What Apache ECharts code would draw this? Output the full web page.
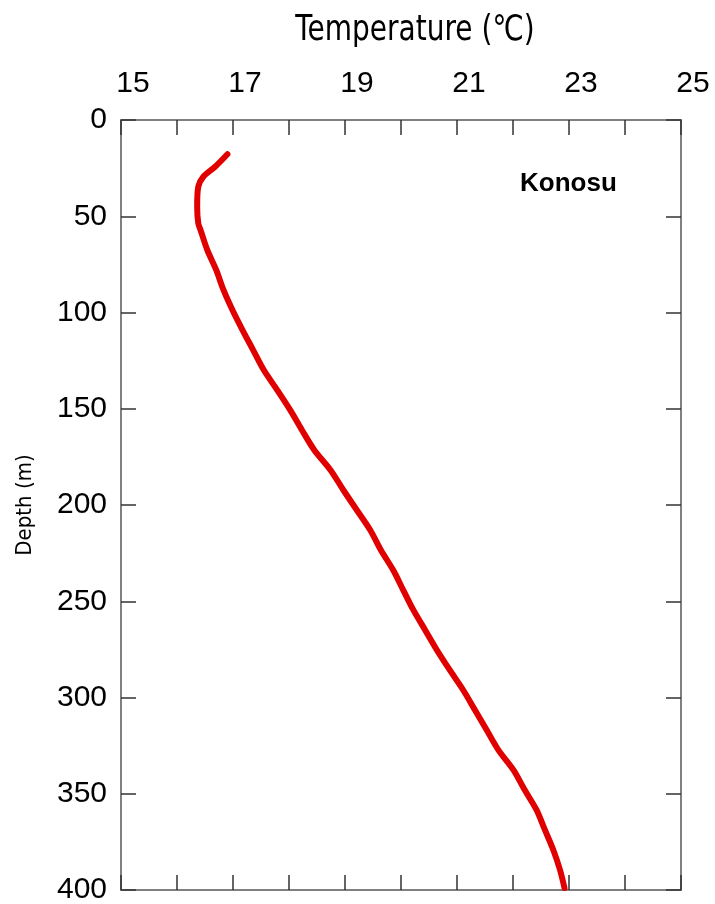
<!DOCTYPE html>
<html>
<head>
<meta charset="utf-8">
<title>Konosu temperature profile</title>
<script src="https://cdn.jsdelivr.net/npm/echarts@6/dist/echarts.min.js"></script>
<style>
  html, body { margin: 0; padding: 0; background: #ffffff; }
  #chart { width: 715px; height: 904px; }
</style>
</head>
<body>
<div id="chart"></div>
<script>
// Borehole temperature log: depth (m) against temperature (°C)
const depths = [17.8, 24.3, 29.5, 34.6, 45.0, 53.7, 57.1, 67.5, 77.9, 88.3,
  98.7, 109.1, 119.5, 129.9, 140.3, 150.6, 161.0, 171.4, 181.8, 192.2,
  202.6, 213.0, 223.4, 233.8, 244.2, 254.5, 264.9, 275.3, 285.7, 296.1,
  306.5, 316.9, 327.3, 337.7, 348.1, 358.4, 368.8, 379.2, 389.6, 399.0];
const temperatures = [16.90, 16.68, 16.47, 16.38, 16.36, 16.38, 16.42, 16.54, 16.70, 16.83,
  16.99, 17.17, 17.36, 17.55, 17.79, 18.02, 18.23, 18.45, 18.74, 18.97,
  19.21, 19.45, 19.64, 19.86, 20.04, 20.22, 20.43, 20.64, 20.87, 21.11,
  21.32, 21.53, 21.74, 22.01, 22.21, 22.42, 22.57, 22.72, 22.84, 22.92];

const tempLabels = ['15', '17', '19', '21', '23', '25'];
const depthLabels = ['0', '50', '100', '150', '200', '250', '300', '350', '400'];
const tempTitle = 'Temperature (℃)';
const depthTitle = 'Depth (m)';
const siteName = 'Konosu';

const axisLineStyle = { color: '#808080', width: 2 };
const tickStyle = { color: '#333333', width: 1.5 };
const labelFont = { fontFamily: 'Liberation Sans, Arial, sans-serif', fontSize: 30, color: '#000' };
const titleFont = 'DejaVu Sans Condensed, DejaVu Sans, sans-serif';

const chart = echarts.init(document.getElementById('chart'), null, { renderer: 'canvas' });

const points = depths.map((d, i) => [temperatures[i], d]);

// shared frame settings: every side carries inward ticks
function frameAxis(extra) {
  return Object.assign({
    type: 'value',
    axisLine: { show: true, onZero: false, lineStyle: axisLineStyle },
    axisTick: { show: true, inside: true, length: 15, lineStyle: tickStyle },
    splitLine: { show: false }
  }, extra);
}

chart.setOption({
  animation: false,
  backgroundColor: '#ffffff',
  grid: { left: 121, right: 34, top: 120, bottom: 14, containLabel: false, outerBoundsMode: 'none' },
  xAxis: [
    frameAxis({
      position: 'top', min: 15, max: 25, interval: 1,
      axisLabel: {
        margin: 21, ...labelFont, padding: [0, 0, 0, 24],
        formatter: v => (tempLabels.includes(String(v)) ? String(v) : '')
      }
    }),
    frameAxis({
      position: 'bottom', min: 15, max: 25, interval: 1,
      axisLabel: { show: false }
    })
  ],
  yAxis: [
    frameAxis({
      position: 'left', inverse: true, min: 0, max: 400, interval: 50,
      name: depthTitle, nameLocation: 'middle', nameGap: 85, nameRotate: 90,
      nameTextStyle: { fontFamily: titleFont, fontSize: 22, color: '#000' },
      axisLabel: { margin: 14, ...labelFont, formatter: v => depthLabels[v / 50] }
    }),
    frameAxis({
      position: 'right', inverse: true, min: 0, max: 400, interval: 50,
      axisLabel: { show: false }
    })
  ],
  graphic: [
    {
      type: 'text', x: 415, y: 31,
      scaleX: 0.8,
      style: {
        text: tempTitle, fontFamily: 'DejaVu Sans, sans-serif', fontSize: 35,
        fill: '#000', align: 'center', verticalAlign: 'middle'
      }
    },
    {
      type: 'text', left: 520, top: 171,
      style: { text: siteName, fontFamily: 'Liberation Sans, Arial, sans-serif', fontSize: 26, fontWeight: 'bold', fill: '#000' }
    }
  ],
  series: [
    {
      type: 'line', xAxisIndex: 0, yAxisIndex: 0,
      data: points, smooth: 0.3, showSymbol: false,
      lineStyle: { color: '#e00000', width: 6, cap: 'round', join: 'round' }
    }
  ]
});
</script>
</body>
</html>
